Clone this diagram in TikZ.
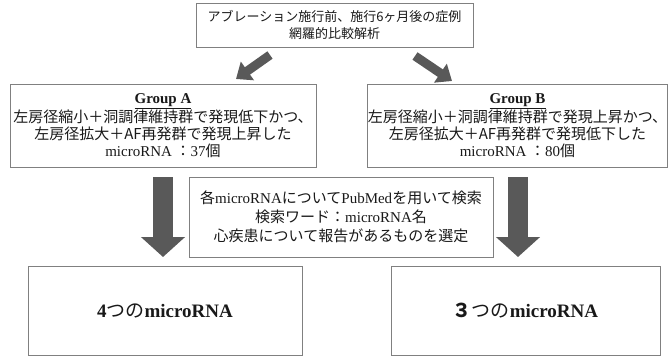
\documentclass[tikz,border=0pt]{standalone}
\usepackage{fontspec}
\setmainfont{Liberation Serif}
\newfontfamily\jp{Noto Sans CJK JP}
\usetikzlibrary{arrows.meta}
\definecolor{boxline}{HTML}{808080}
\definecolor{arrowgray}{HTML}{595959}
\begin{document}
\begin{tikzpicture}[x=1pt,y=-1pt,
  box/.style={draw=boxline, line width=0.8pt, fill=white, align=center, inner sep=0pt, text=black!90},
  bigarrow/.style={draw=arrowgray, line width=20pt, -{Triangle[width=43pt,length=20pt]}},
  diagarrow/.style={draw=arrowgray, line width=9pt, -{Triangle[width=22pt,length=14pt]}}]
\useasboundingbox (0,0) rectangle (669,356);
\fill[white] (0,0) rectangle (669,356);

\node[box, minimum width=277pt, minimum height=44pt,
      font=\fontsize{13}{17}\selectfont] (top) at (334.5,25)
  {{\jp アブレーション施行前、施行6ヶ月後の症例}\\{\jp 網羅的比較解析}};

\node[box, minimum width=306pt, minimum height=83pt,
      font=\fontsize{15}{17}\selectfont] (ga) at (163,125.5)
  {\underline{\textbf{Group A}}\\
   {\jp 左房径縮小＋洞調律維持群で発現低下かつ、}\\
   {\jp 左房径拡大＋AF再発群で発現上昇した}\\
   microRNA {\jp ：}37{\jp 個}};

\node[box, minimum width=293pt, minimum height=83pt,
      font=\fontsize{15}{17}\selectfont] (gb) at (517.5,125.5)
  {\underline{\textbf{Group B}}\\
   {\jp 左房径縮小＋洞調律維持群で発現上昇かつ、}\\
   {\jp 左房径拡大＋AF再発群で発現低下した}\\
   microRNA {\jp ：}80{\jp 個}};

\node[box, minimum width=304pt, minimum height=80pt,
      font=\fontsize{15}{19}\selectfont] (mid) at (341,217)
  {{\jp 各}microRNA{\jp について}PubMed{\jp を用いて検索}\\
   {\jp 検索ワード：}microRNA{\jp 名}\\
   {\jp 心疾患について報告があるものを選定}};

\node[box, minimum width=274pt, minimum height=89pt,
      font=\fontsize{19}{22}\selectfont\bfseries] (ra) at (165,310.5)
  {4{\jp\mdseries つの}microRNA};

\node[box, minimum width=269pt, minimum height=89pt,
      font=\fontsize{19}{22}\selectfont\bfseries] (rb) at (525.5,310.5)
  {{\jp\bfseries ３}{\jp\mdseries つの}microRNA};

\coordinate (la1) at (270,55);
\coordinate (la2) at (236,79);
\coordinate (ra1) at (415,56);
\coordinate (ra2) at (452,81);
\draw[diagarrow] (la1) -- (la2);
\draw[diagarrow] (ra1) -- (ra2);

\coordinate (da1) at (163,177);
\coordinate (da2) at (163,257);
\coordinate (db1) at (518,177);
\coordinate (db2) at (518,257);
\draw[bigarrow] (da1) -- (da2);
\draw[bigarrow] (db1) -- (db2);
\end{tikzpicture}
\end{document}
